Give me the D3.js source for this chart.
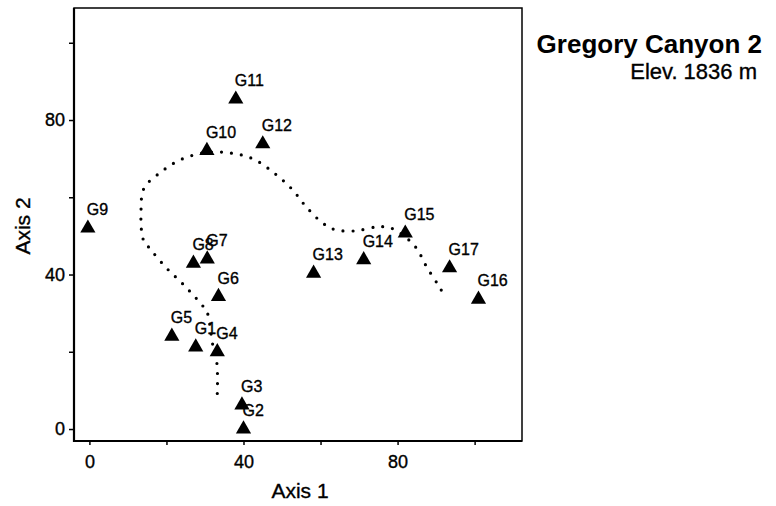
<!DOCTYPE html>
<html>
<head>
<meta charset="utf-8">
<script src="https://cdn.jsdelivr.net/npm/d3@7"></script>
<style>
  body { margin: 0; background: #fff; }
  svg { display: block; }
  text { font-family: "Liberation Sans", Arial, Helvetica, sans-serif; fill: #000; }
  .ink { stroke: #000; stroke-width: 0.35px; }
</style>
</head>
<body>
<svg id="chart" width="776" height="506"></svg>
<script>
// Ordination scores of the sampling plots
const sites = ["G1","G2","G3","G4","G5","G6","G7","G8","G9","G10","G11","G12","G13","G14","G15","G16","G17"];
const axis1 = [27.6, 40.0, 39.6, 33.2, 21.4, 33.5, 30.6, 27.0, -0.4, 30.5, 38.0, 45.0, 58.2, 71.2, 82.0, 101.0, 93.5];
const axis2 = [21.2,  0.0,  6.2, 20.0, 24.0, 34.3, 44.0, 42.9, 52.0, 72.1, 85.4, 73.8, 40.3, 43.8, 50.7, 33.6, 41.7];

// Hand-fitted trend through the plots (dotted curve)
const trendAxis1 = [33.2, 33.1, 31.9, 30.6, 28.8, 24.3, 19.7, 15.8, 14.0, 13.4, 14.2, 18.4, 23.6, 30.3, 37.0, 42.6, 47.8, 52.6, 56.3, 60.6, 63.8, 69.0, 74.4, 77.1, 79.7, 84.6, 87.6, 90.9, 92.4];
const trendAxis2 = [ 9.2, 17.0, 22.4, 30.1, 32.6, 37.5, 42.0, 46.6, 49.0, 56.7, 62.4, 66.4, 69.7, 71.6, 71.4, 69.9, 66.4, 62.1, 57.5, 53.3, 51.6, 51.3, 52.3, 52.3, 51.4, 47.2, 41.9, 36.7, 34.1];

const tickValues = [0, 20, 40, 60, 80, 100];
const labelledTicks = [0, 40, 80];
const xTitle = "Axis 1";
const yTitle = "Axis 2";
const title = "Gregory Canyon 2";
const subtitle = "Elev. 1836 m";

const svg = d3.select("#chart");
const frame = { left: 74, right: 522, top: 8, bottom: 441 };

const x = d3.scaleLinear().domain([-4, 112.3]).range([frame.left, frame.right]);
const y = d3.scaleLinear().domain([-3.1, 109]).range([frame.bottom, frame.top]);

const tickFmt = d => labelledTicks.includes(d) ? d : "";

// Axes
const xAxis = svg.append("g")
  .attr("transform", `translate(0,${frame.bottom})`)
  .call(d3.axisBottom(x).tickValues(tickValues).tickFormat(tickFmt).tickSize(4).tickPadding(10));
const yAxis = svg.append("g")
  .attr("transform", `translate(${frame.left},0)`)
  .call(d3.axisLeft(y).tickValues(tickValues).tickFormat(tickFmt).tickSize(5).tickPadding(4));

[xAxis, yAxis].forEach(g => {
  g.select(".domain").remove();
  g.selectAll(".tick line").attr("stroke", "#000").attr("stroke-width", 1.5);
  g.selectAll(".tick text").attr("font-size", 18).attr("fill", "#000").attr("class", "ink")
    .style("font-family", "\"Liberation Sans\", Arial, sans-serif");
});

// Plot frame
svg.append("rect")
  .attr("x", frame.left).attr("y", frame.top)
  .attr("width", frame.right - frame.left).attr("height", frame.bottom - frame.top)
  .attr("fill", "none").attr("stroke", "#000").attr("stroke-width", 1.5);
svg.append("line")
  .attr("x1", frame.left).attr("x2", frame.left).attr("y1", frame.top).attr("y2", frame.bottom + 1)
  .attr("stroke", "#000").attr("stroke-width", 2.2);
svg.append("line")
  .attr("x1", frame.left - 1).attr("x2", frame.right).attr("y1", frame.bottom).attr("y2", frame.bottom)
  .attr("stroke", "#000").attr("stroke-width", 2.2);

// Dotted trend curve
const trend = d3.range(trendAxis1.length).map(i => [trendAxis1[i], trendAxis2[i]]);
svg.append("path")
  .datum(trend)
  .attr("d", d3.line().x(d => x(d[0])).y(d => y(d[1])).curve(d3.curveCatmullRom.alpha(0.5)))
  .attr("fill", "none")
  .attr("stroke", "#000")
  .attr("stroke-width", 3.2)
  .attr("stroke-linecap", "round")
  .attr("stroke-dasharray", "0 10");

// Plot markers and labels
const pts = sites.map((s, i) => ({ name: s, a1: axis1[i], a2: axis2[i] }));
const tri = d3.symbol().type(d3.symbolTriangle).size(100);
svg.append("g").selectAll("path")
  .data(pts).join("path")
  .attr("d", tri)
  .attr("transform", d => `translate(${x(d.a1)},${y(d.a2)})`)
  .attr("fill", "#000");

svg.append("g").selectAll("text")
  .data(pts).join("text")
  .attr("class", "ink")
  .attr("x", d => x(d.a1) - 1)
  .attr("y", d => y(d.a2) - 13)
  .attr("font-size", 16)
  .text(d => d.name);

// Axis titles
svg.append("text")
  .attr("class", "ink")
  .attr("x", 300).attr("y", 498)
  .attr("text-anchor", "middle").attr("font-size", 21)
  .text(xTitle);
svg.append("text")
  .attr("class", "ink")
  .attr("transform", `translate(30,226) rotate(-90)`)
  .attr("text-anchor", "middle").attr("font-size", 21)
  .text(yTitle);

// Site heading
svg.append("text")
  .attr("x", 762).attr("y", 53)
  .attr("text-anchor", "end").attr("font-size", 26).attr("font-weight", "bold")
  .text(title);
svg.append("text")
  .attr("class", "ink")
  .attr("x", 757).attr("y", 79)
  .attr("text-anchor", "end").attr("font-size", 22)
  .text(subtitle);
</script>
</body>
</html>
